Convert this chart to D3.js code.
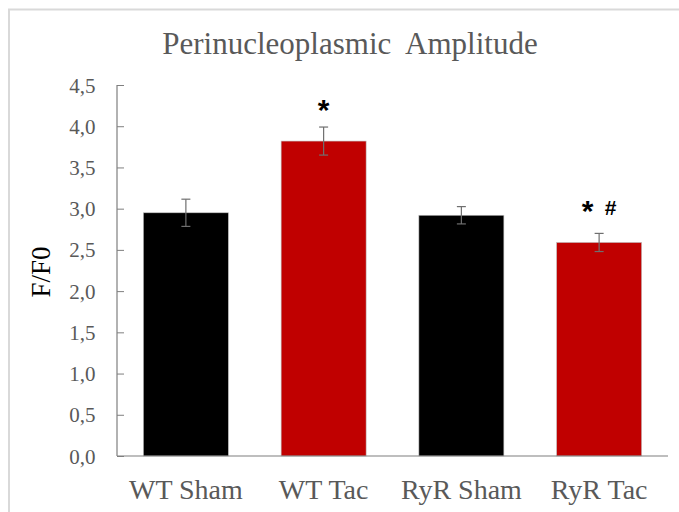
<!DOCTYPE html>
<html>
<head>
<meta charset="utf-8">
<script src="https://cdn.jsdelivr.net/npm/d3@7"></script>
<style>
  html, body { margin: 0; padding: 0; background: #fff; }
  svg { display: block; }
</style>
</head>
<body>
<svg id="chart" width="679" height="512"></svg>
<script>
// Perinucleoplasmic Ca2+ amplitude (F/F0) per group, mean ± SEM
const categories = ["WT Sham", "WT Tac", "RyR Sham", "RyR Tac"];
const means = [2.95, 3.82, 2.92, 2.59];
const errors = [0.165, 0.17, 0.105, 0.11];
const markers = [[], ["*"], [], ["*", "#"]];
const yTicks = [0, 0.5, 1.0, 1.5, 2.0, 2.5, 3.0, 3.5, 4.0, 4.5];
const barColors = ["#000000", "#c00000", "#000000", "#c00000"];

const svg = d3.select("#chart");
const W = 679, H = 512;
const margin = { left: 117, right: 11, top: 85, bottom: 56 };
const x0 = margin.left, x1 = W - margin.right;
const yTop = margin.top, yBot = H - margin.bottom;
const serif = "Liberation Serif, Times New Roman, serif";
const sans = "Liberation Sans, Arial, sans-serif";

// outer chart frame
svg.append("rect")
  .attr("x", 9).attr("y", 9.5)
  .attr("width", W).attr("height", H)
  .attr("fill", "#fff")
  .attr("stroke", "#d9d9d9").attr("stroke-width", 2);

const x = d3.scaleBand()
  .domain(categories)
  .range([x0, x1])
  .paddingInner(0.383)
  .paddingOuter(0.1915);

const y = d3.scaleLinear().domain([0, 4.5]).range([yBot, yTop]);

const fmt = v => d3.format(".1f")(v).replace(".", ",");

// title
svg.append("text")
  .attr("x", 350).attr("y", 54)
  .attr("text-anchor", "middle")
  .attr("font-family", serif)
  .attr("font-size", 31)
  .attr("fill", "#595959")
  .attr("xml:space", "preserve")
  .text("Perinucleoplasmic\u00a0 Amplitude");

// bars
svg.append("g").selectAll("rect")
  .data(categories)
  .join("rect")
  .attr("x", d => x(d))
  .attr("width", x.bandwidth())
  .attr("y", (d, i) => y(means[i]))
  .attr("height", (d, i) => y(0) - y(means[i]))
  .attr("fill", (d, i) => barColors[i])
  .attr("stroke", "#bfbfbf").attr("stroke-width", 0.6);

// error bars
const eb = svg.append("g").attr("stroke", "#6f6f6f").attr("stroke-width", 1.2);
categories.forEach((c, i) => {
  const cx = x(c) + x.bandwidth() / 2;
  const hi = y(means[i] + errors[i]), lo = y(means[i] - errors[i]);
  eb.append("line").attr("x1", cx).attr("x2", cx).attr("y1", hi).attr("y2", lo);
  eb.append("line").attr("x1", cx - 4.5).attr("x2", cx + 4.5).attr("y1", hi).attr("y2", hi);
  eb.append("line").attr("x1", cx - 4.5).attr("x2", cx + 4.5).attr("y1", lo).attr("y2", lo);
});

// significance markers: * vs WT Sham, # vs WT Tac
const mg = svg.append("g").attr("fill", "#000").attr("font-family", sans);
categories.forEach((c, i) => {
  const cx = x(c) + x.bandwidth() / 2;
  const cy = y(means[i]) - 35;
  const syms = markers[i];
  syms.forEach((s, k) => {
    const dx = syms.length > 1 ? (k - (syms.length - 1) / 2) * 23 : 0;
    const isStar = s === "*";
    mg.append("text")
      .attr("x", cx + dx)
      .attr("y", isStar ? cy + 13.5 : cy + 7.5)
      .attr("text-anchor", "middle")
      .attr("font-weight", "bold")
      .attr("font-size", isStar ? 30 : 21)
      .text(s);
  });
});

// y axis
const yAxis = d3.axisRight(y).tickValues(yTicks).tickSize(7).tickFormat("");
const gy = svg.append("g").attr("transform", `translate(${x0},0)`).call(yAxis);
gy.select(".domain").remove();
gy.selectAll(".tick line").attr("stroke", "#7f7f7f");
svg.append("line")
  .attr("x1", x0).attr("x2", x0).attr("y1", yTop).attr("y2", yBot)
  .attr("stroke", "#7f7f7f").attr("stroke-width", 1.2);

svg.append("g").selectAll("text")
  .data(yTicks)
  .join("text")
  .attr("x", 95.5)
  .attr("y", d => y(d) + 7.5)
  .attr("text-anchor", "end")
  .attr("font-family", serif)
  .attr("font-size", 21)
  .attr("fill", "#595959")
  .text(fmt);

// x axis
svg.append("line")
  .attr("x1", x0).attr("x2", x1).attr("y1", yBot).attr("y2", yBot)
  .attr("stroke", "#7f7f7f").attr("stroke-width", 1.2);

const xAxis = d3.axisBottom(x).tickSize(0).tickPadding(0);
const gx = svg.append("g").attr("transform", `translate(0,${yBot})`).call(xAxis);
gx.select(".domain").remove();
gx.selectAll(".tick text")
  .attr("dy", 0).attr("y", 42.5)
  .attr("font-family", serif)
  .attr("font-size", 28)
  .attr("fill", "#595959");

// y axis title
svg.append("text")
  .attr("transform", `translate(50,272) rotate(-90)`)
  .attr("text-anchor", "middle")
  .attr("font-family", serif)
  .attr("font-size", 27)
  .attr("fill", "#000")
  .text("F/F0");
</script>
</body>
</html>
